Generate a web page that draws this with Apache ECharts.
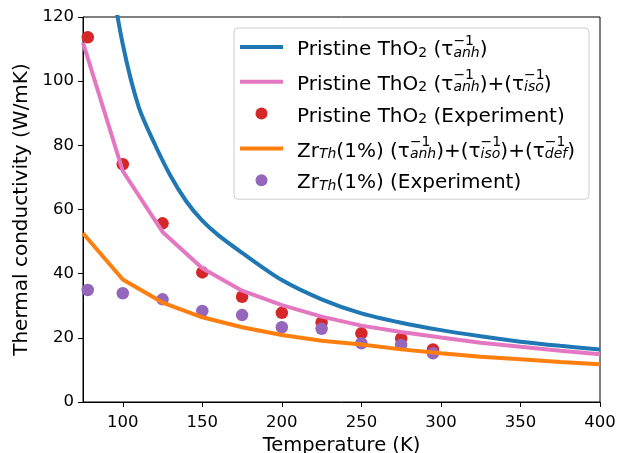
<!DOCTYPE html>
<html><head><meta charset="utf-8">
<script src="https://cdn.jsdelivr.net/npm/echarts@6/dist/echarts.min.js"></script>
<style>html,body{margin:0;padding:0;background:#fff}#c{width:628px;height:453px}</style>
</head><body><div id="c"></div>
<script>
// Data
const calcTemps = [75,100,125,150,175,200,225,250,275,300,325,350,375,400];
const anhTemps = [90,100,110,120,130,140,150,160,175,200,225,250,275,300,325,350,375,400];
const anhValues = [140,111.5,92,80.5,70.5,62.5,56.5,52,46.5,38,32,27.6,24.7,22.4,20.5,18.8,17.5,16.4];
const anhIsoValues = [112,72,53,41.7,34.7,30.2,26.6,23.8,21.8,20.1,18.5,17.2,16.0,14.9];
const zrCalcValues = [52.6,38.2,31.0,26.4,23.3,20.9,19.1,17.9,16.4,15.2,14.1,13.3,12.5,11.8];
const expTemps = [78,100,125,150,175,200,225,250,275,295];
const expPristine = [113.7,74.1,55.7,40.4,32.8,27.8,24.8,21.4,19.8,16.4];
const expZr = [34.9,33.9,32.0,28.4,27.1,23.3,22.8,18.3,17.8,15.2];
const xTickValues = [100,150,200,250,300,350,400];
const seriesNames = ['pristineAnh','pristineAnhIso','pristineExp','zrCalc','zrExp'];
const lineSeriesNames = ['pristineAnh','pristineAnhIso','zrCalc'];
const legendLabels = {
  pristineAnh: '{g| }{n|Pristine ThO}{sb|2}{n| (τ}{sp|−1}{si|anh}{n|)}',
  pristineAnhIso: '{g| }{n|Pristine ThO}{sb|2}{n| (τ}{sp|−1}{si|anh}{n|)+(τ}{sp|−1}{si|iso}{n|)}',
  pristineExp: '{g| }{n|Pristine ThO}{sb|2}{n| (Experiment)}',
  zrCalc: '{g| }{n|Zr}{si|Th}{n|(1%) (τ}{sp|−1}{si|anh}{n|)+(τ}{sp|−1}{si|iso}{n|)+(τ}{sp|−1}{si|def}{n|)}',
  zrExp: '{g| }{n|Zr}{si|Th}{n|(1%) (Experiment)}'
};

const FF = 'DejaVu Sans';
const zip = (xs, ys) => xs.map((x, i) => [x, ys[i]]);
const LINE_ICON = 'path://M0,0 L43,0 L43,4 L0,4 Z';

const chart = echarts.init(document.getElementById('c'), null, {renderer: 'canvas'});
chart.setOption({
  animation: false,
  backgroundColor: '#fff',
  grid: {left: 83, right: 28, top: 17, bottom: 51, outerBoundsMode: 'none', containLabel: false,
         show: true, borderColor: '#000', borderWidth: 1, backgroundColor: 'transparent'},
  xAxis: {
    type: 'value', min: 75, max: 400,
    name: 'Temperature (K)', nameLocation: 'middle', nameGap: 31,
    nameTextStyle: {fontFamily: FF, fontSize: 19.5, color: '#000'},
    axisLine: {show: true, lineStyle: {color: '#000', width: 1}},
    axisTick: {show: true, length: 5, customValues: xTickValues, lineStyle: {color: '#000', width: 1}},
    axisLabel: {customValues: xTickValues, fontFamily: FF, fontSize: 16.5, color: '#000', margin: 12},
    splitLine: {show: false}
  },
  yAxis: {
    type: 'value', min: 0, max: 120, interval: 20,
    name: 'Thermal conductivity (W/mK)', nameLocation: 'middle', nameGap: 39, nameRotate: 90,
    nameTextStyle: {fontFamily: FF, fontSize: 20, color: '#000'},
    axisLine: {show: true, lineStyle: {color: '#000', width: 1}},
    axisTick: {show: true, length: 5, lineStyle: {color: '#000', width: 1}},
    axisLabel: {fontFamily: FF, fontSize: 16.5, color: '#000', margin: 9},
    splitLine: {show: false}
  },
  legend: {
    orient: 'vertical', left: 234, top: 28,
    padding: [6, 14, 6, 6], itemGap: 8.8, itemWidth: 43, itemHeight: 12,
    backgroundColor: 'rgba(255,255,255,0.8)', borderColor: '#cccccc', borderWidth: 1, borderRadius: 4,
    data: seriesNames.map(n => lineSeriesNames.includes(n) ? {name: n, icon: LINE_ICON} : {name: n, icon: 'circle'}),
    formatter: name => legendLabels[name],
    textStyle: {
      fontFamily: FF, fontSize: 20, color: '#000',
      rich: {
        g: {fontFamily: FF, fontSize: 20, width: 9, lineHeight: 26},
        n: {fontFamily: FF, fontSize: 20, color: '#000', lineHeight: 22, verticalAlign: 'bottom'},
        sb: {fontFamily: FF, fontSize: 14, color: '#000', lineHeight: 12.3, verticalAlign: 'bottom'},
        si: {fontFamily: FF, fontSize: 14, fontStyle: 'italic', color: '#000', lineHeight: 11.5, verticalAlign: 'bottom'},
        sp: {fontFamily: FF, fontSize: 14, color: '#000', lineHeight: 16.4, verticalAlign: 'top', width: 0}
      }
    }
  },
  series: [
    {name: 'pristineAnh', type: 'line', data: zip(anhTemps, anhValues), symbol: 'none', clip: true,
     smooth: 0.3,
     lineStyle: {color: '#1f77b4', width: 4}, itemStyle: {color: '#1f77b4'}},
    {name: 'pristineAnhIso', type: 'line', data: zip(calcTemps, anhIsoValues), symbol: 'none', clip: true,
     lineStyle: {color: '#e377c2', width: 4}, itemStyle: {color: '#e377c2'}},
    {name: 'pristineExp', type: 'scatter', data: zip(expTemps, expPristine), symbol: 'circle', symbolSize: 12.5,
     itemStyle: {color: '#d62728', opacity: 1}},
    {name: 'zrCalc', type: 'line', data: zip(calcTemps, zrCalcValues), symbol: 'none', clip: true,
     lineStyle: {color: '#ff7f0e', width: 4}, itemStyle: {color: '#ff7f0e'}},
    {name: 'zrExp', type: 'scatter', data: zip(expTemps, expZr), symbol: 'circle', symbolSize: 12.5,
     itemStyle: {color: '#9467bd', opacity: 1}}
  ]
});
</script></body></html>
